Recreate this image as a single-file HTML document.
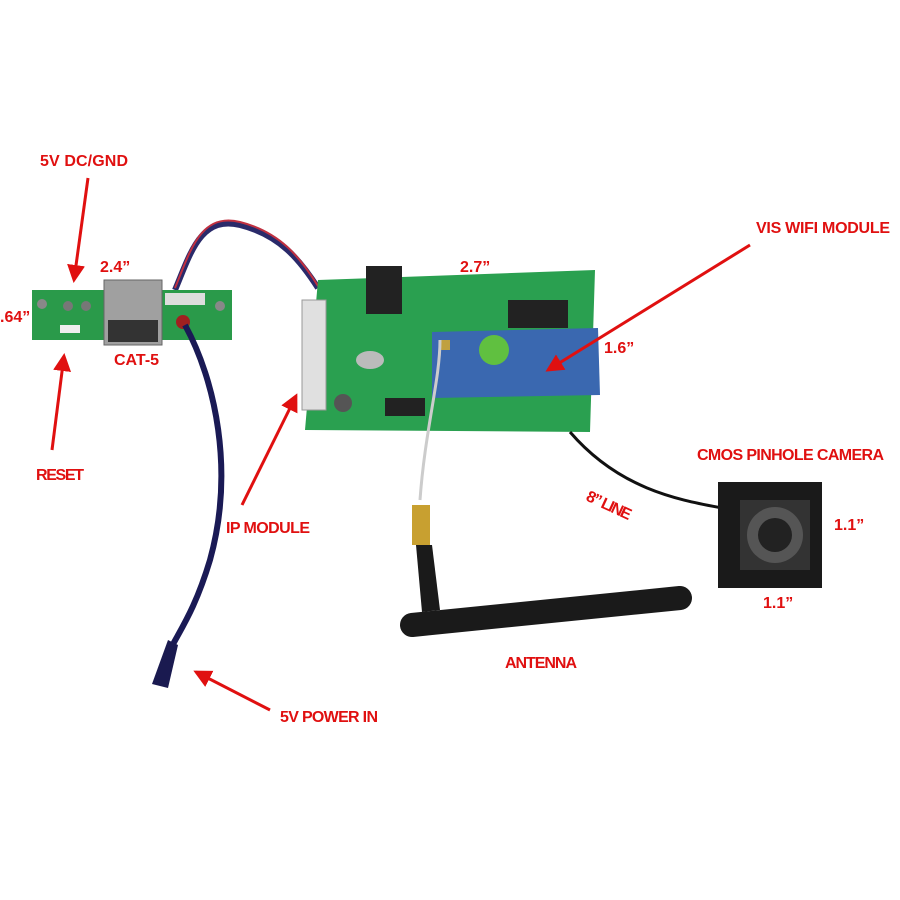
<!DOCTYPE html>
<html><head><style>
html,body{margin:0;padding:0;background:#fff;}
svg{display:block}
text{font-family:"Liberation Sans Narrow","Liberation Sans",sans-serif;fill:#e01010;font-size:16px;font-weight:bold}
</style></head><body>
<svg width="900" height="900" viewBox="0 0 900 900" xmlns="http://www.w3.org/2000/svg">
<defs>
<marker id="ah" markerWidth="6" markerHeight="6" refX="5" refY="3" orient="auto" markerUnits="strokeWidth">
<path d="M0,0 L6,3 L0,6 z" fill="#e01010"/></marker>
</defs>
<rect width="900" height="900" fill="#fff"/>
<path d="M175,290 C190,255 200,215 240,225 C280,235 300,260 318,288" stroke="#2a2a6a" stroke-width="6" fill="none"/>
<path d="M175,288 C190,252 200,212 240,222 C280,232 300,257 318,286" stroke="#c03040" stroke-width="2" fill="none"/>
<rect x="32" y="290" width="200" height="50" fill="#2a9a4a"/>
<rect x="104" y="280" width="58" height="65" fill="#a0a0a0" stroke="#666"/>
<rect x="108" y="320" width="50" height="22" fill="#333"/>
<rect x="165" y="293" width="40" height="12" fill="#ddd"/>
<circle cx="42" cy="304" r="5" fill="#888"/><circle cx="220" cy="306" r="5" fill="#888"/>
<circle cx="68" cy="306" r="5" fill="#777"/><circle cx="86" cy="306" r="5" fill="#777"/>
<rect x="60" y="325" width="20" height="8" fill="#eee"/>
<circle cx="183" cy="322" r="7" fill="#a02020"/>
<path d="M185,325 C215,380 235,470 210,560 C195,610 180,630 170,650" stroke="#1a1a55" stroke-width="6" fill="none"/>
<path d="M168,640 L178,645 L168,688 L152,684 Z" fill="#1a1a50"/>
<polygon points="318,280 595,270 590,432 305,430" fill="#2aa050"/>
<rect x="366" y="266" width="36" height="48" fill="#222"/>
<rect x="508" y="300" width="60" height="28" fill="#222"/>
<rect x="385" y="398" width="40" height="18" fill="#222"/>
<rect x="302" y="300" width="24" height="110" fill="#e0e0e0" stroke="#999"/>
<circle cx="343" cy="403" r="9" fill="#555"/>
<ellipse cx="370" cy="360" rx="14" ry="9" fill="#bbb"/>
<polygon points="432,332 598,328 600,395 432,398" fill="#3a68b0"/>
<circle cx="494" cy="350" r="15" fill="#60c040"/>
<rect x="440" y="340" width="10" height="10" fill="#c0a040"/>
<path d="M440,340 C440,380 425,430 420,500" stroke="#ccc" stroke-width="3" fill="none"/>
<rect x="412" y="505" width="18" height="40" fill="#c8a030"/>
<path d="M416,545 L432,545 L440,610 L422,612 Z" fill="#1a1a1a"/>
<path d="M412,625 L680,598" stroke="#1a1a1a" stroke-width="24" stroke-linecap="round"/>
<path d="M570,432 C620,490 680,500 722,508" stroke="#111" stroke-width="3" fill="none"/>
<rect x="718" y="482" width="104" height="106" fill="#1a1a1a"/>
<rect x="740" y="500" width="70" height="70" fill="#333"/>
<circle cx="775" cy="535" r="28" fill="#555"/>
<circle cx="775" cy="535" r="17" fill="#222"/>
<text x="40" y="166" textLength="88">5V DC/GND</text>
<text x="100" y="272">2.4”</text>
<text x="0" y="322">.64”</text>
<text x="114" y="365">CAT-5</text>
<text x="36" y="480" textLength="48">RESET</text>
<text x="460" y="272">2.7”</text>
<text x="756" y="233" textLength="134">VIS WIFI MODULE</text>
<text x="604" y="353">1.6”</text>
<text x="697" y="460" textLength="187">CMOS PINHOLE CAMERA</text>
<text x="834" y="530">1.1”</text>
<text x="763" y="608">1.1”</text>
<text x="226" y="533" textLength="84">IP MODULE</text>
<text x="585" y="500" transform="rotate(25 585 500)" textLength="48">8” LINE</text>
<text x="505" y="668" textLength="72">ANTENNA</text>
<text x="280" y="722" textLength="98">5V POWER IN</text>
<g stroke="#e01010" stroke-width="3" fill="none">
<line x1="88" y1="178" x2="74" y2="280" marker-end="url(#ah)"/>
<line x1="52" y1="450" x2="64" y2="356" marker-end="url(#ah)"/>
<line x1="242" y1="505" x2="296" y2="396" marker-end="url(#ah)"/>
<line x1="750" y1="245" x2="548" y2="370" marker-end="url(#ah)"/>
<line x1="270" y1="710" x2="196" y2="672" marker-end="url(#ah)"/>
</g>
</svg>
</body></html>
